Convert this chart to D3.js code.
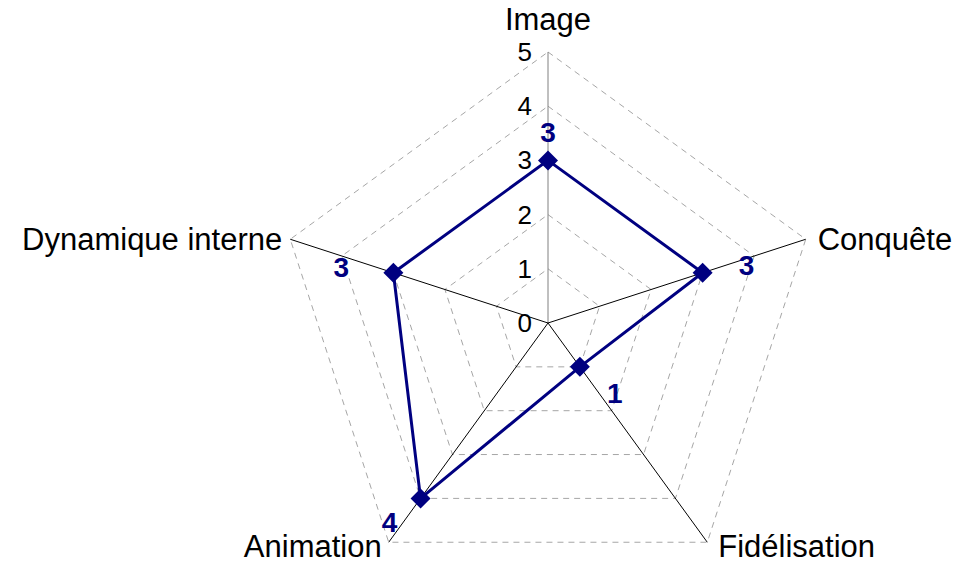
<!DOCTYPE html>
<html>
<head>
<meta charset="utf-8">
<script src="https://cdn.jsdelivr.net/npm/d3@7"></script>
<style>
  html, body { margin: 0; padding: 0; background: #fff; }
  svg { display: block; font-family: "Liberation Sans", Arial, sans-serif; }
</style>
</head>
<body>
<svg id="chart" width="970" height="561"></svg>
<script>
// Axes of the radar, clockwise from the top
const categories = ["Image", "Conquête", "Fidélisation", "Animation", "Dynamique interne"];
// Score on each axis
const scores = [3, 3, 1, 4, 3];
// Value axis ticks
const tickValues = [0, 1, 2, 3, 4, 5];

const svg = d3.select("#chart");
const cx = 548, cy = 323, radius = 271;

const r = d3.scaleLinear().domain([0, 5]).range([0, radius]);
const angle = d3.scaleLinear().domain([0, categories.length]).range([0, 2 * Math.PI]);

const pt = (i, v) => {
  const a = angle(i);
  return [cx + r(v) * Math.sin(a), cy - r(v) * Math.cos(a)];
};

// Dashed gridline pentagons
const gridLine = d3.line();
svg.append("g").selectAll("path")
  .data(tickValues.filter(t => t > 0))
  .join("path")
  .attr("d", t => gridLine(categories.map((c, i) => pt(i, t))) + "Z")
  .attr("fill", "none")
  .attr("stroke", "#a6a6a6")
  .attr("stroke-width", 1)
  .attr("stroke-dasharray", "6,5");

// Spokes
svg.append("g").selectAll("line")
  .data(categories)
  .join("line")
  .attr("x1", cx).attr("y1", cy)
  .attr("x2", (c, i) => pt(i, 5)[0])
  .attr("y2", (c, i) => pt(i, 5)[1])
  .attr("stroke", (c, i) => i === 0 ? "#808080" : "#000")
  .attr("stroke-width", 1);

// Value axis tick labels along the top spoke
svg.append("g").selectAll("text")
  .data(tickValues)
  .join("text")
  .attr("x", cx - 16)
  .attr("y", t => cy - r(t) + 9)
  .attr("text-anchor", "end")
  .attr("font-size", 26)
  .attr("fill", "#000")
  .text(t => t);

// Category labels
const catPos = [
  { dx: 0, dy: -22, anchor: "middle" },
  { dx: 12, dy: 11, anchor: "start" },
  { dx: 11, dy: 15, anchor: "start" },
  { dx: -7, dy: 15, anchor: "end" },
  { dx: -8, dy: 11, anchor: "end" }
];
svg.append("g").selectAll("text")
  .data(categories)
  .join("text")
  .attr("x", (c, i) => pt(i, 5)[0] + catPos[i].dx)
  .attr("y", (c, i) => pt(i, 5)[1] + catPos[i].dy)
  .attr("text-anchor", (c, i) => catPos[i].anchor)
  .attr("font-size", 31)
  .attr("fill", "#000")
  .text(c => c);

// Series polygon
const pts = scores.map((v, i) => pt(i, v));
svg.append("path")
  .attr("d", d3.line()(pts) + "Z")
  .attr("fill", "none")
  .attr("stroke", "#000080")
  .attr("stroke-width", 3)
  .attr("stroke-linejoin", "miter");

// Diamond markers
svg.append("g").selectAll("path")
  .data(pts)
  .join("path")
  .attr("transform", d => `translate(${d[0]},${d[1]})`)
  .attr("d", "M0,-10L10,0L0,10L-10,0Z")
  .attr("fill", "#000080");

// Value labels
const lblOff = [[0, -28], [44, -8], [35, 26], [-31, 24], [-52, -6]];
svg.append("g").selectAll("text")
  .data(scores)
  .join("text")
  .attr("x", (v, i) => pts[i][0] + lblOff[i][0])
  .attr("y", (v, i) => pts[i][1] + lblOff[i][1] + 10)
  .attr("text-anchor", "middle")
  .attr("font-size", 28)
  .attr("font-weight", "bold")
  .attr("fill", "#000080")
  .text(v => v);
</script>
</body>
</html>
